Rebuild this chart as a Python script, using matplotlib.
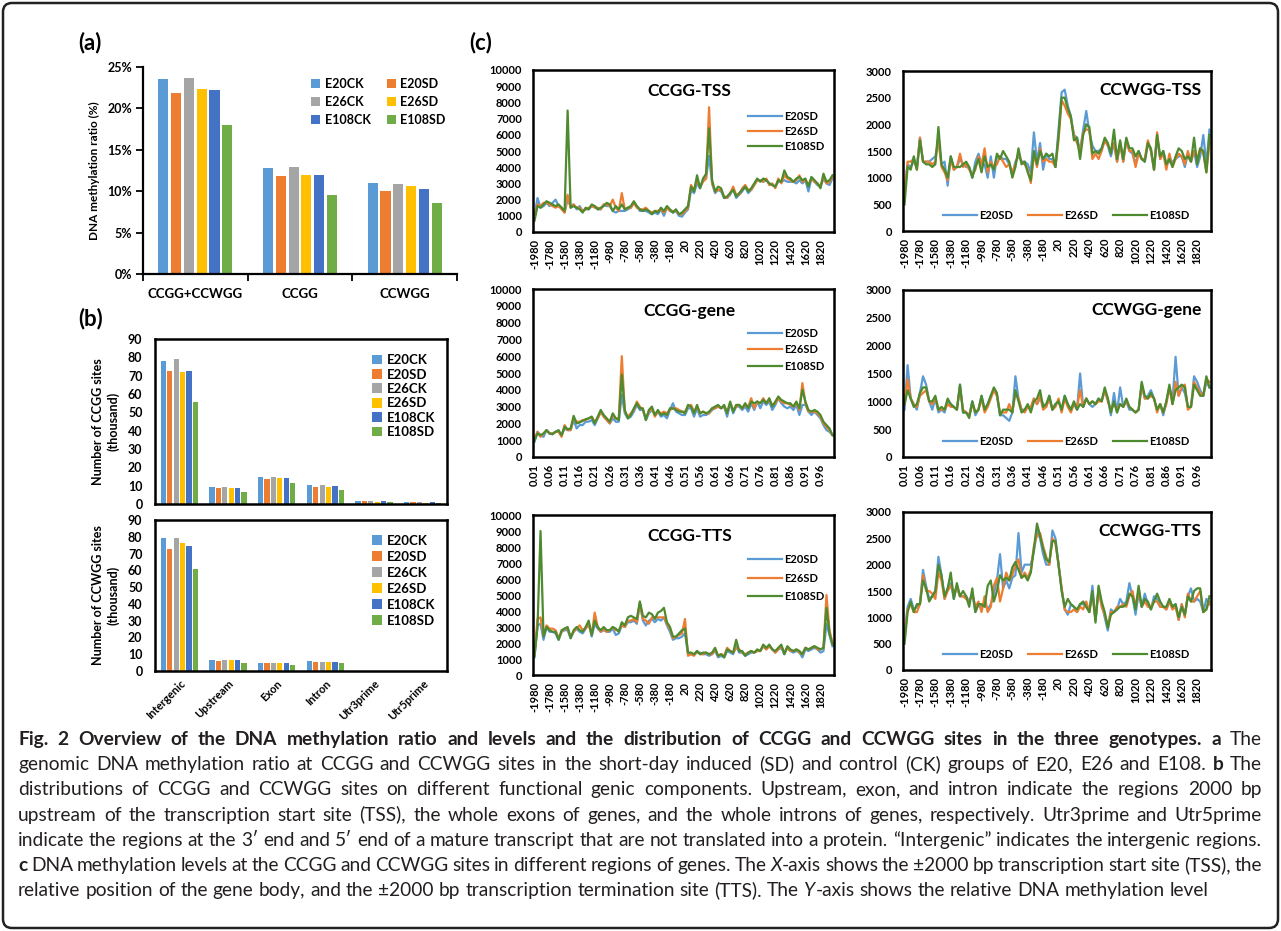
import numpy as np
import matplotlib
matplotlib.use("Agg")
import matplotlib.pyplot as plt
from matplotlib.patches import FancyBboxPatch
from matplotlib.transforms import IdentityTransform

plt.rcParams['font.family'] = ['Lato', 'DejaVu Sans']

# ---------------- data ----------------
genotypes = ['E20CK', 'E20SD', 'E26CK', 'E26SD', 'E108CK', 'E108SD']
bar_colors = ['#5B9BD5', '#ED7D31', '#A5A5A5', '#FFC000', '#4472C4', '#70AD47']

# (a) methylation ratio (%)
site_groups = ['CCGG+CCWGG', 'CCGG', 'CCWGG']
ratio_E20CK = [23.6, 12.8, 11.0]
ratio_E20SD = [21.8, 11.8, 10.0]
ratio_E26CK = [23.7, 12.9, 10.9]
ratio_E26SD = [22.4, 11.9, 10.6]
ratio_E108CK = [22.2, 11.9, 10.3]
ratio_E108SD = [18.0, 9.5, 8.6]

# (b) number of sites (thousand)
components = ['Intergenic', 'Upstream', 'Exon', 'Intron', 'Utr3prime', 'Utr5prime']
ccgg_E20CK = [78.0, 9.5, 15.0, 10.5, 1.5, 1.0]
ccgg_E20SD = [72.5, 9.0, 13.5, 9.5, 1.5, 1.0]
ccgg_E26CK = [79.0, 9.5, 15.0, 10.5, 1.5, 1.0]
ccgg_E26SD = [72.0, 9.0, 14.3, 9.5, 1.3, 0.8]
ccgg_E108CK = [72.5, 9.0, 14.3, 10.0, 1.5, 1.0]
ccgg_E108SD = [55.5, 6.5, 11.5, 7.5, 1.0, 0.6]

ccwgg_E20CK = [79.5, 6.5, 5.0, 6.0, 0.15, 0.1]
ccwgg_E20SD = [72.5, 6.0, 5.0, 5.5, 0.15, 0.1]
ccwgg_E26CK = [79.0, 6.5, 5.0, 5.5, 0.15, 0.1]
ccwgg_E26SD = [76.5, 6.5, 5.0, 5.5, 0.15, 0.1]
ccwgg_E108CK = [74.5, 6.5, 5.0, 5.5, 0.15, 0.1]
ccwgg_E108SD = [60.5, 5.0, 3.5, 4.5, 0.1, 0.1]

# (c) methylation level profiles
line_names = ['E20SD', 'E26SD', 'E108SD']
line_colors = ['#5B9BD5', '#ED7D31', '#4E8A2E']

tss_bp = np.arange(-1980, 2000, 40)
gene_pos = np.arange(1, 101) / 100
bp_ticks = [-1980, -1780, -1580, -1380, -1180, -980, -780, -580, -380, -180,
            20, 220, 420, 620, 820, 1020, 1220, 1420, 1620, 1820]
gene_ticks = [0.01, 0.06, 0.11, 0.16, 0.21, 0.26, 0.31, 0.36, 0.41, 0.46,
              0.51, 0.56, 0.61, 0.66, 0.71, 0.76, 0.81, 0.86, 0.91, 0.96]

ccgg_tss_E20SD = [
    1000, 2100, 1500, 1600, 1800, 1600, 1800, 2000, 1600, 1500,
    1200, 2000, 1600, 1700, 1400, 1600, 1300, 1400, 1400, 1600,
    1600, 1400, 1400, 1700, 1600, 1600, 1300, 1200, 1300, 1300,
    1300, 1400, 1500, 1800, 1600, 1300, 1300, 1300, 1200, 1100,
    1200, 1100, 1400, 1000, 1500, 1300, 1200, 1300, 1000, 950,
    1200, 1400, 2600, 2400, 3000, 2700, 3200, 3300, 4700, 3000,
    2400, 2600, 2500, 2100, 2100, 2300, 2700, 2100, 2300, 2500,
    2800, 2400, 2600, 2900, 3200, 3200, 3100, 3200, 3000, 2900,
    2800, 3100, 3100, 3200, 3100, 3100, 3100, 3000, 3200, 3000,
    3200, 2500, 3300, 3100, 2900, 2800, 3300, 3000, 2900, 3300]
ccgg_tss_E26SD = [
    900, 1700, 1600, 1800, 1800, 1700, 1600, 1500, 1600, 1400,
    1200, 2300, 1500, 1700, 1500, 1500, 1300, 1400, 1500, 1600,
    1500, 1500, 1400, 1700, 1700, 1600, 2000, 1500, 1300, 2400,
    1400, 1500, 1500, 1800, 1500, 1400, 1400, 1500, 1300, 1200,
    1300, 1300, 1400, 1200, 1500, 1300, 1300, 1300, 1100, 1100,
    1300, 1500, 2900, 2600, 3200, 2800, 3100, 3300, 7700, 3000,
    2500, 2600, 2600, 2200, 2100, 2400, 2800, 2300, 2300, 2700,
    2900, 2600, 2600, 2900, 3200, 3200, 3100, 3300, 2900, 3000,
    2700, 3300, 3000, 3500, 3300, 3200, 3100, 3200, 3500, 3100,
    3200, 2900, 3300, 3100, 3000, 2800, 3400, 3000, 3100, 3400]
ccgg_tss_E108SD = [
    700, 1600, 1500, 1700, 1900, 1800, 1700, 1600, 1700, 1500,
    1300, 7500, 1500, 1600, 1500, 1400, 1200, 1500, 1400, 1700,
    1600, 1400, 1500, 1600, 1800, 1700, 1300, 1600, 1400, 1700,
    1400, 1500, 1600, 1900, 1600, 1400, 1300, 1400, 1300, 1100,
    1300, 1200, 1500, 1300, 1600, 1400, 1200, 1400, 1100, 1200,
    1400, 1600, 2800, 2500, 3500, 2700, 3300, 3600, 6400, 3200,
    2500, 2800, 2700, 2100, 2200, 2400, 2600, 2200, 2400, 2600,
    2800, 2500, 2700, 3000, 3300, 3100, 3300, 3200, 3000, 2900,
    2800, 3200, 3100, 3800, 3400, 3300, 3100, 3300, 3400, 3200,
    3300, 2800, 3400, 3200, 3000, 2700, 3600, 3100, 3200, 3500]

ccwgg_tss_E20SD = [
    800, 1250, 1200, 1300, 1200, 1750, 1300, 1300, 1300, 1350,
    1400, 1700, 1250, 1300, 850, 1400, 1150, 1200, 1350, 1250,
    1200, 1200, 1000, 1300, 1450, 1250, 1250, 1000, 1400, 1000,
    1400, 1400, 1350, 1350, 1250, 1050, 1300, 1400, 1300, 1300,
    1250, 1100, 1850, 1300, 1650, 1150, 1450, 1350, 1350, 1200,
    1900, 2600, 2650, 2350, 2150, 1800, 1750, 1500, 1900, 2250,
    1850, 1600, 1500, 1500, 1550, 1700, 1600, 1400, 1650, 1300,
    1650, 1300, 1700, 1500, 1450, 1250, 1500, 1350, 1300, 1650,
    1500, 1150, 1750, 1350, 1500, 1250, 1300, 1300, 1350, 1400,
    1400, 1200, 1450, 1300, 1500, 1200, 1400, 1800, 1250, 1900]
ccwgg_tss_E26SD = [
    700, 1300, 1300, 1350, 1150, 1750, 1300, 1300, 1300, 1250,
    1300, 1750, 1200, 1100, 950, 1350, 1150, 1200, 1450, 1200,
    1250, 1150, 1050, 1150, 1400, 1250, 1550, 1100, 1300, 1200,
    1250, 1400, 1300, 1200, 1250, 1100, 1250, 1450, 1300, 1250,
    1150, 900, 1450, 1200, 1550, 1300, 1350, 1300, 1300, 1200,
    1700, 2450, 2350, 2200, 2100, 1800, 1650, 1500, 1850, 1900,
    1900, 1350, 1450, 1350, 1500, 1700, 1600, 1500, 1650, 1300,
    1650, 1300, 1700, 1500, 1500, 1200, 1450, 1350, 1350, 1700,
    1500, 1150, 1850, 1350, 1450, 1150, 1450, 1200, 1350, 1450,
    1400, 1250, 1500, 1300, 1500, 1350, 1550, 1450, 1100, 1650]
ccwgg_tss_E108SD = [
    500, 1200, 1150, 1400, 1150, 1700, 1300, 1250, 1250, 1200,
    1250, 1950, 1250, 1150, 1000, 1400, 1200, 1200, 1200, 1250,
    1300, 1200, 1000, 1200, 1350, 1100, 1400, 1200, 1250, 1150,
    1450, 1350, 1500, 1400, 1300, 1000, 1200, 1550, 1250, 1300,
    1100, 950, 1500, 1250, 1500, 1350, 1450, 1400, 1450, 1200,
    1800, 2500, 2500, 2300, 2150, 1700, 1750, 1350, 1800, 2000,
    1950, 1450, 1500, 1450, 1550, 1750, 1650, 1450, 1900, 1350,
    1700, 1350, 1750, 1550, 1550, 1400, 1500, 1350, 1300, 1650,
    1550, 1150, 1800, 1400, 1500, 1250, 1350, 1200, 1400, 1550,
    1500, 1350, 1400, 1300, 1750, 1250, 1550, 1500, 1100, 1800]

ccgg_gene_E20SD = [
    900, 1500, 1300, 1200, 1600, 1400, 1400, 1500, 1500, 1300,
    1700, 1600, 1600, 2200, 1700, 1900, 1900, 2100, 2100, 2200,
    1900, 2300, 2700, 2400, 2200, 2000, 2300, 2100, 2100, 3700,
    2600, 2300, 2400, 2700, 3100, 2800, 2800, 2200, 2600, 2800,
    2500, 2700, 2400, 2500, 2300, 2800, 3200, 2700, 2600, 2500,
    2500, 2900, 2900, 2400, 2900, 2400, 2500, 2500, 2600, 2800,
    2900, 3000, 2900, 3000, 2400, 3200, 2600, 3000, 3000, 2800,
    3000, 2700, 3200, 2800, 3300, 2900, 3300, 3100, 3300, 2800,
    3100, 3500, 3200, 3000, 2900, 3000, 2800, 3100, 2500, 3100,
    3100, 2700, 2500, 2700, 2500, 2300, 1900, 1600, 1500, 1300]
ccgg_gene_E26SD = [
    1100, 1500, 1200, 1400, 1600, 1400, 1400, 1500, 1500, 1200,
    1900, 1600, 1600, 2300, 2100, 2100, 2200, 2200, 2300, 2400,
    2100, 2300, 2700, 2400, 2200, 2000, 2500, 2300, 2300, 6000,
    2700, 2400, 2600, 2800, 3300, 3000, 2800, 2300, 2700, 2900,
    2400, 2700, 2600, 2700, 2600, 2800, 2900, 2900, 2800, 2700,
    2700, 3000, 3100, 2700, 3000, 2600, 2700, 2600, 2600, 2900,
    2900, 3000, 2900, 3000, 2700, 3200, 2800, 3000, 3100, 2900,
    3100, 3000, 3500, 2900, 3300, 3200, 3500, 3200, 3400, 3100,
    3200, 3500, 3300, 3200, 3200, 3100, 3000, 3200, 2800, 4400,
    3200, 2700, 2700, 2700, 2600, 2400, 2000, 1800, 1600, 1300]
ccgg_gene_E108SD = [
    1000, 1400, 1300, 1400, 1600, 1400, 1350, 1500, 1600, 1300,
    1800, 1650, 1700, 2450, 2000, 2050, 2150, 2250, 2300, 2400,
    2000, 2400, 2800, 2500, 2300, 2100, 2600, 2300, 2200, 4900,
    2800, 2300, 2500, 2900, 3200, 2900, 2900, 2200, 2800, 3000,
    2500, 2800, 2500, 2600, 2500, 2900, 2900, 2800, 2700, 2700,
    2600, 3100, 3000, 2600, 3100, 2600, 2700, 2600, 2700, 2900,
    3000, 3100, 2900, 3100, 2600, 3300, 2700, 3100, 3100, 2900,
    3200, 2900, 3300, 3200, 3300, 3200, 3400, 3200, 3500, 3000,
    3300, 3600, 3400, 3300, 3200, 3200, 3000, 3300, 2900, 4000,
    3300, 2800, 2700, 2800, 2700, 2500, 2100, 1900, 1700, 1300]

ccwgg_gene_E20SD = [
    850, 1650, 1050, 950, 850, 1150, 1450, 1300, 1000, 850,
    1050, 800, 850, 800, 1000, 950, 900, 850, 1300, 800,
    800, 750, 1000, 750, 850, 1100, 850, 950, 1100, 1200,
    1100, 750, 750, 700, 650, 800, 1450, 1050, 850, 850,
    900, 850, 1050, 950, 1050, 950, 900, 1100, 850, 950,
    1000, 850, 1100, 950, 850, 950, 850, 1500, 900, 1050,
    950, 900, 950, 1050, 1000, 1200, 1050, 750, 1150, 800,
    1250, 900, 1000, 850, 850, 800, 850, 1300, 1050, 1100,
    1200, 1050, 850, 950, 750, 1000, 1250, 1000, 1800, 1100,
    1250, 1150, 900, 900, 1450, 1350, 1200, 1100, 1350, 1250]
ccwgg_gene_E26SD = [
    950, 1400, 1050, 950, 900, 1100, 1150, 1200, 1000, 950,
    1050, 850, 850, 850, 950, 900, 900, 850, 1250, 850,
    800, 750, 950, 800, 850, 1050, 800, 900, 1050, 1200,
    1100, 800, 800, 800, 950, 800, 1150, 1050, 850, 800,
    900, 900, 1050, 950, 1100, 850, 900, 1050, 850, 900,
    1050, 800, 1050, 900, 800, 950, 900, 1200, 900, 1050,
    950, 1000, 950, 1000, 1000, 1200, 1000, 850, 950, 850,
    950, 900, 1000, 900, 850, 800, 850, 1300, 1050, 1050,
    1100, 1050, 800, 950, 800, 950, 1250, 950, 1350, 1100,
    1250, 1300, 850, 900, 1350, 1250, 1150, 1100, 1400, 1350]
ccwgg_gene_E108SD = [
    950, 1200, 1050, 900, 950, 1150, 1250, 1250, 1000, 1000,
    1100, 850, 900, 850, 1050, 950, 900, 850, 1300, 800,
    800, 700, 1000, 800, 850, 1100, 850, 950, 1100, 1250,
    1150, 750, 850, 850, 850, 800, 1200, 1000, 800, 850,
    950, 800, 1000, 1050, 1200, 900, 950, 1100, 850, 950,
    1000, 850, 1100, 950, 850, 1000, 850, 950, 900, 1050,
    950, 1000, 950, 1050, 1000, 1250, 1050, 800, 1000, 800,
    950, 900, 1050, 900, 850, 800, 850, 1350, 1100, 1050,
    1150, 1050, 850, 950, 800, 1000, 1300, 950, 1200, 1250,
    1300, 1250, 900, 900, 1300, 1200, 1100, 1100, 1450, 1250]

ccgg_tts_E20SD = [
    1100, 3100, 3200, 2200, 3000, 2700, 2700, 2600, 2200, 2700,
    2800, 2800, 2300, 2700, 2900, 2700, 2600, 2900, 3200, 2400,
    3200, 2900, 2700, 2800, 2700, 2700, 2900, 2500, 2600, 3100,
    3000, 3300, 3300, 3400, 3200, 4500, 3400, 3100, 3400, 3500,
    3300, 3500, 3400, 3600, 3100, 2700, 2200, 2300, 2300, 2400,
    2600, 1300, 1300, 1300, 1400, 1400, 1300, 1300, 1200, 1300,
    1500, 1100, 1200, 1100, 1500, 1400, 1300, 1800, 1400, 1400,
    1200, 1300, 1400, 1400, 1500, 1500, 1800, 1600, 1800, 1600,
    1400, 1600, 1700, 1300, 1700, 1500, 1400, 1500, 1400, 1100,
    1600, 1500, 1600, 1700, 1600, 1400, 1500, 3200, 2500, 1800]
ccgg_tts_E26SD = [
    1300, 3500, 3600, 2500, 3100, 2900, 2900, 2800, 2300, 2700,
    2900, 2900, 2400, 2700, 2900, 3100, 2800, 2900, 3200, 2500,
    3900, 3000, 2700, 2900, 2700, 2800, 3000, 2800, 2800, 3100,
    3000, 3400, 3400, 3500, 3300, 4500, 3500, 3400, 3200, 3600,
    3600, 3600, 3600, 3600, 3200, 2900, 2300, 2400, 2500, 2600,
    3500, 1200, 1300, 1200, 1500, 1300, 1300, 1400, 1300, 1300,
    1600, 1200, 1300, 1200, 1700, 1500, 1400, 1700, 1600, 1400,
    1300, 1400, 1500, 1400, 1500, 1500, 1800, 1600, 1800, 1600,
    1400, 1600, 1800, 1400, 1700, 1500, 1500, 1600, 1400, 1300,
    1700, 1600, 1700, 1800, 1600, 1600, 1700, 5000, 2800, 2000]
ccgg_tts_E108SD = [
    1200, 3000, 9000, 2400, 3000, 2800, 2700, 2700, 2200, 2800,
    2900, 3000, 2300, 2800, 3000, 2800, 2700, 3000, 3400, 2500,
    3400, 3000, 2800, 3000, 2800, 2800, 3000, 2900, 2700, 3300,
    3100, 3600, 3700, 3600, 3500, 4600, 3700, 3600, 3900, 3800,
    3500, 3900, 4000, 4200, 3300, 3000, 2400, 2400, 2600, 2800,
    2900, 1400, 1400, 1300, 1500, 1300, 1400, 1400, 1300, 1400,
    1700, 1200, 1300, 1100, 1600, 1500, 1400, 2200, 1500, 1500,
    1200, 1400, 1500, 1400, 1600, 1500, 1900, 1700, 1900, 1600,
    1500, 1700, 1900, 1300, 1800, 1600, 1500, 1600, 1500, 1300,
    1700, 1600, 1700, 1800, 1700, 1600, 1700, 4200, 2600, 1900]

ccwgg_tts_E20SD = [
    700, 1200, 1350, 1150, 1200, 1250, 1900, 1600, 1350, 1400,
    1500, 2150, 1800, 1350, 1550, 1650, 1350, 1600, 1400, 1400,
    1400, 1300, 1450, 1100, 1250, 1200, 1250, 1150, 1250, 1450,
    1700, 2200, 1550, 1700, 1550, 1750, 1800, 2600, 1850, 2000,
    2000, 2000, 2250, 2650, 2500, 2200, 2000, 2000, 2650, 2500,
    2000, 1550, 1150, 1050, 1250, 1200, 1100, 1250, 1250, 1200,
    1100, 1600, 950, 1500, 1250, 1000, 750, 1150, 1100, 1150,
    1350, 1250, 1300, 1650, 1400, 1050, 1450, 1200, 1450, 1250,
    1150, 1400, 1350, 1200, 1200, 1150, 1300, 1200, 1250, 950,
    1250, 1050, 1400, 1550, 1300, 1350, 1300, 1100, 1350, 1250]
ccwgg_tts_E26SD = [
    600, 1150, 1250, 1100, 1100, 1250, 1800, 1500, 1500, 1450,
    1350, 1850, 1700, 1350, 1500, 1600, 1500, 1550, 1400, 1400,
    1350, 1300, 1450, 1200, 1300, 1100, 1400, 1100, 1200, 1600,
    1750, 1300, 1550, 1850, 1700, 1800, 2000, 2100, 1750, 1850,
    1750, 1900, 2350, 2550, 2600, 2350, 2150, 2000, 2500, 2400,
    2000, 1550, 1150, 1100, 1100, 1150, 1100, 1200, 1150, 1300,
    1100, 1450, 950, 1550, 1200, 1050, 850, 1100, 1100, 1200,
    1200, 1250, 1200, 1400, 1500, 1200, 1500, 1200, 1300, 1200,
    1200, 1300, 1300, 1200, 1200, 1150, 1300, 1150, 1200, 950,
    1250, 1000, 1450, 1300, 1300, 1400, 1500, 1100, 1150, 1300]
ccwgg_tts_E108SD = [
    500, 1100, 1300, 1100, 1250, 1250, 1700, 1550, 1300, 1400,
    1500, 2000, 1800, 1400, 1550, 1850, 1350, 1650, 1400, 1500,
    1400, 1200, 1550, 1100, 1250, 1250, 1200, 1600, 1700, 1300,
    1500, 1800, 1700, 1750, 1700, 1950, 2050, 1900, 1750, 1800,
    1700, 1850, 2300, 2780, 2550, 2300, 2100, 2050, 2450, 2450,
    2000, 1500, 1200, 1350, 1250, 1200, 1150, 1250, 1300, 1200,
    1100, 1500, 900, 1600, 1300, 1100, 800, 1050, 1100, 1150,
    1200, 1200, 1250, 1450, 1400, 1150, 1600, 1200, 1350, 1300,
    1150, 1300, 1450, 1300, 1200, 1200, 1350, 1200, 1250, 1000,
    1200, 1050, 1400, 1300, 1500, 1550, 1550, 1100, 1150, 1400]

# ---------------- figure ----------------
W, H = 1281, 931
fig = plt.figure(figsize=(W / 100, H / 100), dpi=100)


def rect(x0, y0, x1, y1):
    # pixel box (top-left origin) -> figure fraction
    return [x0 / W, 1 - y1 / H, (x1 - x0) / W, (y1 - y0) / H]


# outer frame
fig.patches.append(FancyBboxPatch((3, 3), W - 6, H - 6,
                                  boxstyle='round,pad=0,rounding_size=9',
                                  transform=IdentityTransform(), fill=False,
                                  ec='#222222', lw=1.8))

fig.text(78 / W, 1 - 43 / H, '(a)', fontsize=16, fontweight='bold', va='center')
fig.text(78 / W, 1 - 319 / H, '(b)', fontsize=16, fontweight='bold', va='center')
fig.text(469 / W, 1 - 43 / H, '(c)', fontsize=16, fontweight='bold', va='center')

# ---- (a)
ratios = [ratio_E20CK, ratio_E20SD, ratio_E26CK, ratio_E26SD, ratio_E108CK, ratio_E108SD]
ax = fig.add_axes(rect(143, 67, 457, 274))
xg = np.arange(len(site_groups))
bars = []
for k in range(6):
    bars.append(ax.bar(xg + (k - 2.5) * 0.122, ratios[k], 0.097,
                       color=bar_colors[k], label=genotypes[k]))
ax.set_xlim(-0.5, 2.5)
ax.set_ylim(0, 25)
ax.set_yticks([0, 5, 10, 15, 20, 25], ['%d%%' % v for v in [0, 5, 10, 15, 20, 25]])
ax.set_xticks(xg, site_groups)
ax.set_xticks([-0.5, 0.5, 1.5, 2.5], minor=True)
ax.tick_params(axis='x', which='major', length=0, pad=10)
ax.tick_params(axis='x', which='minor', length=5, width=1.3)
ax.tick_params(axis='y', length=5, width=1.3, pad=3)
for s in ['top', 'right']:
    ax.spines[s].set_visible(False)
for s in ['left', 'bottom']:
    ax.spines[s].set_linewidth(1.6)
for t in ax.get_xticklabels():
    t.set_fontsize(9.5)
    t.set_fontweight('bold')
for t in ax.get_yticklabels():
    t.set_fontsize(9)
    t.set_fontweight('bold')
ax.set_ylabel('DNA methylation ratio (%)', fontsize=8.5, fontweight='bold', labelpad=5)
order = [0, 2, 4, 1, 3, 5]
ax.legend([bars[i] for i in order], [genotypes[i] for i in order], ncol=2,
          loc='upper right', bbox_to_anchor=(1.0, 1.0), frameon=False,
          prop={'size': 9, 'weight': 'bold'}, handlelength=0.75, handleheight=0.75,
          handletextpad=0.35, columnspacing=1.3, labelspacing=0.45)

# ---- (b)
xc = np.arange(len(components))


def site_panel(box, series, ylabel, show_labels, spacing):
    ax = fig.add_axes(rect(*box))
    for k in range(6):
        ax.bar(xc + (k - 2.5) * 0.131, series[k], 0.108,
               color=bar_colors[k], label=genotypes[k])
    ax.set_xlim(-0.5, 5.5)
    ax.set_ylim(0, 90)
    ax.set_yticks(range(0, 91, 10))
    ax.tick_params(axis='y', length=0, pad=9, labelsize=9)
    for t in ax.get_yticklabels():
        t.set_fontweight('bold')
    if show_labels:
        ax.set_xticks(xc)
        ax.set_xticklabels(components, rotation=45, ha='right', rotation_mode='anchor',
                           fontsize=8, fontweight='bold')
        ax.tick_params(axis='x', length=0, pad=5)
    else:
        ax.set_xticks([])
    for s in ax.spines.values():
        s.set_linewidth(1.8)
    ax.set_ylabel(ylabel, fontsize=9, fontweight='bold', labelpad=6, linespacing=1.25)
    ax.legend(loc='upper right', bbox_to_anchor=(1.0, 0.98), frameon=False,
              prop={'size': 9.5, 'weight': 'bold'}, handlelength=0.75,
              handleheight=0.75, handletextpad=0.35, labelspacing=spacing)
    return ax


site_panel((155, 339, 447, 504),
           [ccgg_E20CK, ccgg_E20SD, ccgg_E26CK, ccgg_E26SD, ccgg_E108CK, ccgg_E108SD],
           'Number of CCGG sites\n(thousand)', False, 0.18)
site_panel((155, 520, 447, 671),
           [ccwgg_E20CK, ccwgg_E20SD, ccwgg_E26CK, ccwgg_E26SD, ccwgg_E108CK, ccwgg_E108SD],
           'Number of CCWGG sites\n(thousand)', True, 0.3)


# ---- (c)
def level_panel(box, x, series, ymax, ystep, title, ccwgg, gene, spacing=0.4, top=0.83):
    ax = fig.add_axes(rect(*box))
    for name, vals, c in zip(line_names, series, line_colors):
        ax.plot(x, vals, color=c, lw=1.6, label=name)
    ax.set_ylim(0, ymax)
    ax.set_yticks(np.arange(0, ymax + 1, ystep))
    if gene:
        ax.set_xlim(0.005, 1.005)
        ax.set_xticks(gene_ticks, ['%.2f' % v for v in gene_ticks])
    else:
        ax.set_xlim(-2000, 2000)
        ax.set_xticks(bp_ticks, [str(v) for v in bp_ticks])
    ax.tick_params(axis='x', length=0, pad=5, labelrotation=90, labelsize=8)
    ax.tick_params(axis='y', length=0, pad=8, labelsize=8)
    for t in ax.get_xticklabels() + ax.get_yticklabels():
        t.set_fontweight('bold')
    for s in ax.spines.values():
        s.set_linewidth(1.8)
    if ccwgg:
        ax.text(0.97, 0.88, title, transform=ax.transAxes, ha='right', va='center',
                fontsize=12.5, fontweight='bold')
        ax.legend(loc='lower center', bbox_to_anchor=(0.53, 0.0), ncol=3, frameon=False,
                  prop={'size': 8, 'weight': 'bold'}, handlelength=3.0,
                  handletextpad=0.2, columnspacing=1.4)
    else:
        ax.text(0.52, 0.87, title, transform=ax.transAxes, ha='center', va='center',
                fontsize=12.5, fontweight='bold')
        ax.legend(loc='upper right', bbox_to_anchor=(1.0, top), frameon=False,
                  prop={'size': 8, 'weight': 'bold'}, handlelength=3.0,
                  handletextpad=0.2, labelspacing=spacing)
    return ax


level_panel((533, 70, 834, 232), tss_bp,
            [ccgg_tss_E20SD, ccgg_tss_E26SD, ccgg_tss_E108SD], 10000, 1000,
            'CCGG-TSS', False, False, 0.35, 0.81)
level_panel((903, 71, 1211, 231), tss_bp,
            [ccwgg_tss_E20SD, ccwgg_tss_E26SD, ccwgg_tss_E108SD], 3000, 500,
            'CCWGG-TSS', True, False)
level_panel((533, 289, 834, 457), gene_pos,
            [ccgg_gene_E20SD, ccgg_gene_E26SD, ccgg_gene_E108SD], 10000, 1000,
            'CCGG-gene', False, True, 0.5, 0.83)
level_panel((903, 290, 1211, 457), gene_pos,
            [ccwgg_gene_E20SD, ccwgg_gene_E26SD, ccwgg_gene_E108SD], 3000, 500,
            'CCWGG-gene', True, True)
level_panel((533, 515, 834, 675), tss_bp,
            [ccgg_tts_E20SD, ccgg_tts_E26SD, ccgg_tts_E108SD], 10000, 1000,
            'CCGG-TTS', False, False, 0.7, 0.82)
level_panel((903, 512, 1211, 670), tss_bp,
            [ccwgg_tts_E20SD, ccwgg_tts_E26SD, ccwgg_tts_E108SD], 3000, 500,
            'CCWGG-TTS', True, False)

# ---------------- caption (justified lines) ----------------
B, N, I = 'bold', 'normal', 'italic'
caption = [
    [('Fig. 2 Overview of the DNA methylation ratio and levels and the distribution '
      'of CCGG and CCWGG sites in the three genotypes. a', B, N), (' The', N, N)],
    [('genomic DNA methylation ratio at CCGG and CCWGG sites in the short-day induced '
      '(SD) and control (CK) groups of E20, E26 and E108.', N, N), (' b', B, N), (' The', N, N)],
    [('distributions of CCGG and CCWGG sites on different functional genic components. '
      'Upstream, exon, and intron indicate the regions 2000 bp', N, N)],
    [('upstream of the transcription start site (TSS), the whole exons of genes, and the '
      'whole introns of genes, respectively. Utr3prime and Utr5prime', N, N)],
    [('indicate the regions at the 3\u2032 end and 5\u2032 end of a mature transcript that are '
      'not translated into a protein. \u201cIntergenic\u201d indicates the intergenic regions.', N, N)],
    [('c', B, N), (' DNA methylation levels at the CCGG and CCWGG sites in different regions '
      'of genes. The ', N, N), ('X', N, I),
     ('-axis shows the \u00b12000 bp transcription start site (TSS), the', N, N)],
    [('relative position of the gene body, and the \u00b12000 bp transcription termination '
      'site (TTS). The ', N, N), ('Y', N, I), ('-axis shows the relative DNA methylation level', N, N)],
]
justify = [True, True, True, True, True, True, False]
cap_size = 13.8
cap_left, cap_right = 18, 1262

renderer = fig.canvas.get_renderer()
natural_gap = 0.26 * cap_size * 100 / 72
for li, runs in enumerate(caption):
    words = [[]]
    for txt, wt, st in runs:
        parts = txt.split(' ')
        for k, p in enumerate(parts):
            if k > 0:
                words.append([])
            if p:
                words[-1].append((p, wt, st))
    words = [w for w in words if w]
    ybase = 1 - (745 + 25.2 * li) / H
    placed = []
    total = 0
    for w in words:
        segs = []
        for p, wt, st in w:
            t = fig.text(0, ybase, p, fontsize=cap_size, fontweight=wt, fontstyle=st,
                         va='baseline', ha='left', color='#231f20')
            wpx = t.get_window_extent(renderer).width
            segs.append((t, wpx))
            total += wpx
        placed.append(segs)
    if justify[li]:
        gap = (cap_right - cap_left - total) / (len(placed) - 1)
    else:
        gap = natural_gap
    x = float(cap_left)
    for segs in placed:
        for t, wpx in segs:
            t.set_x(x / W)
            x += wpx
        x += gap

fig.savefig('out.png', dpi=100)
